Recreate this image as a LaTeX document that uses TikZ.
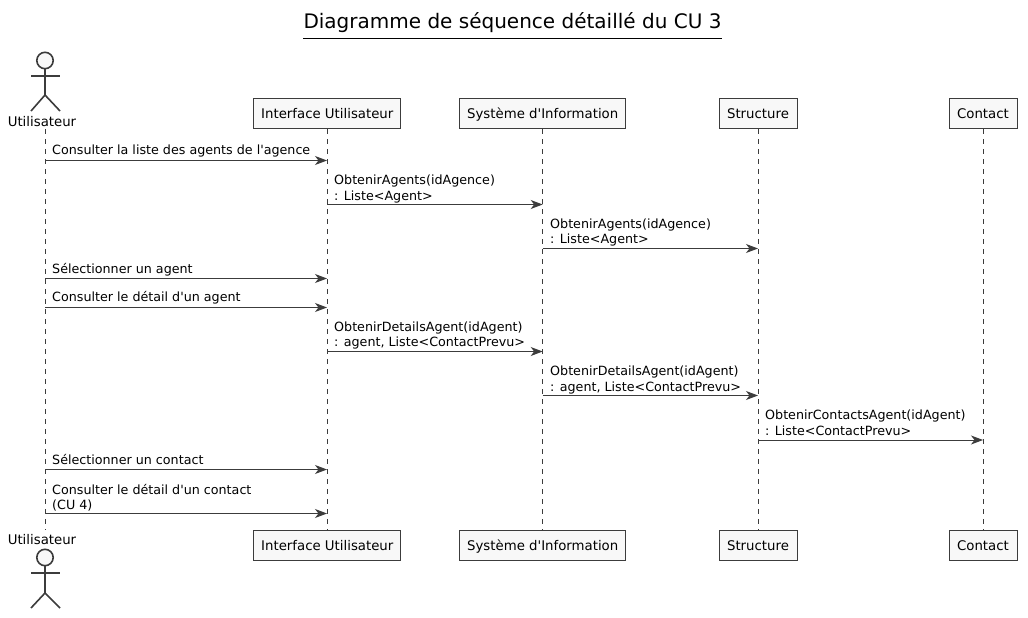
\documentclass[tikz,border=0pt]{standalone}
\usepackage{fontspec}
\setmainfont{DejaVu Sans}[Ligatures=TeXOff]
\usetikzlibrary{arrows.meta}
\definecolor{umlline}{HTML}{3C3C3C}
\definecolor{umlfill}{HTML}{F8F8F8}
\tikzset{
  boxnode/.style={draw=umlline,fill=umlfill,line width=0.8pt,minimum height=30.5pt,inner sep=0pt,text height=10pt,text depth=1pt,font=\fontsize{13.3}{16}\selectfont,text=black},
  lifeline/.style={draw=umlline,line width=0.8pt,dash pattern=on 5pt off 5pt},
  msg/.style={draw=umlline,line width=1pt,-{Stealth[length=12pt,width=9pt,inset=3.5pt]}},
  msglabel/.style={anchor=south west,inner sep=0pt,align=left,font=\fontsize{12.7}{15.5}\selectfont,text=black},
  actorlabel/.style={inner sep=0pt,font=\fontsize{13.3}{16}\selectfont,text=black},
  actorline/.style={draw=umlline,line width=1.6pt},
}
\begin{document}
\begin{tikzpicture}[x=1pt,y=-1pt]
\useasboundingbox (0,0) rectangle (1028,618);
% title
\node[inner sep=0pt,font=\fontsize{20}{24}\selectfont] (title) at (512.5,23) {Diagramme de séquence détaillé du CU 3};
\coordinate (titleL) at (303,38.5);
\coordinate (titleR) at (722,38.5);
\draw[line width=0.8pt] (titleL)--(titleR);
% participants
\node[boxnode,minimum width=147pt] (iuTop) at (327.3,113.5) {Interface Utilisateur};
\node[boxnode,minimum width=166pt] (siTop) at (542.7,113.5) {Système d'Information};
\node[boxnode,minimum width=78pt] (stTop) at (758,113.5) {Structure};
\node[boxnode,minimum width=68pt] (coTop) at (983,113.5) {Contact};
\node[boxnode,minimum width=147pt] (iuBot) at (327.3,545.5) {Interface Utilisateur};
\node[boxnode,minimum width=166pt] (siBot) at (542.7,545.5) {Système d'Information};
\node[boxnode,minimum width=78pt] (stBot) at (758,545.5) {Structure};
\node[boxnode,minimum width=68pt] (coBot) at (983,545.5) {Contact};
% actors
\node[actorlabel] (acTop) at (42,122) {Utilisateur};
\node[actorlabel] (acBot) at (42,540) {Utilisateur};
\coordinate (acTopS) at (45,129);
\coordinate (acBotS) at (45,530);
% lifelines
\draw[lifeline] (acTopS)--(acBotS);
\draw[lifeline] (iuTop.south)--(iuBot.north);
\draw[lifeline] (siTop.south)--(siBot.north);
\draw[lifeline] (stTop.south)--(stBot.north);
\draw[lifeline] (coTop.south)--(coBot.north);
% stick figures
\draw[actorline,fill=umlfill] (45,60.5) circle (8.2);
\draw[actorline] (45,69)--(45,95);
\draw[actorline] (31,76)--(60,76);
\draw[actorline] (31,111)--(45,95)--(60,111);
\draw[actorline,fill=umlfill] (45,557.5) circle (8.2);
\draw[actorline] (45,566)--(45,593);
\draw[actorline] (31,573)--(60,573);
\draw[actorline] (31,608)--(45,593)--(60,608);
% messages
\coordinate (a1) at (45,160.5); \coordinate (b1) at (327,160.5);
\draw[msg] (a1)--(b1);
\node[msglabel] (t1) at (52,157) {Consulter la liste des agents de l'agence};
\coordinate (a2) at (327,204.5); \coordinate (b2) at (542.7,204.5);
\draw[msg] (a2)--(b2);
\node[msglabel] (t2) at (334,203) {ObtenirAgents(idAgence)\\: Liste<Agent>};
\coordinate (a3) at (542.7,248.5); \coordinate (b3) at (758,248.5);
\draw[msg] (a3)--(b3);
\node[msglabel] (t3) at (550,246.5) {ObtenirAgents(idAgence)\\: Liste<Agent>};
\coordinate (a4) at (45,278.5); \coordinate (b4) at (327,278.5);
\draw[msg] (a4)--(b4);
\node[msglabel] (t4) at (52,276) {Sélectionner un agent};
\coordinate (a5) at (45,307.5); \coordinate (b5) at (327,307.5);
\draw[msg] (a5)--(b5);
\node[msglabel] (t5) at (52,304.5) {Consulter le détail d'un agent};
\coordinate (a6) at (327,351.5); \coordinate (b6) at (542.7,351.5);
\draw[msg] (a6)--(b6);
\node[msglabel] (t6) at (334,349.5) {ObtenirDetailsAgent(idAgent)\\: agent, Liste<ContactPrevu>};
\coordinate (a7) at (542.7,395.5); \coordinate (b7) at (758,395.5);
\draw[msg] (a7)--(b7);
\node[msglabel] (t7) at (550,394) {ObtenirDetailsAgent(idAgent)\\: agent, Liste<ContactPrevu>};
\coordinate (a8) at (758,440); \coordinate (b8) at (983,440);
\draw[msg] (a8)--(b8);
\node[msglabel] (t8) at (765,435.5) {ObtenirContactsAgent(idAgent)\\: Liste<ContactPrevu>};
\coordinate (a9) at (45,469.5); \coordinate (b9) at (327,469.5);
\draw[msg] (a9)--(b9);
\node[msglabel] (t9) at (52,465) {Sélectionner un contact};
\coordinate (a10) at (45,513.5); \coordinate (b10) at (327,513.5);
\draw[msg] (a10)--(b10);
\node[msglabel] (t10) at (52,511.5) {Consulter le détail d'un contact\\(CU 4)};
\end{tikzpicture}
\end{document}
